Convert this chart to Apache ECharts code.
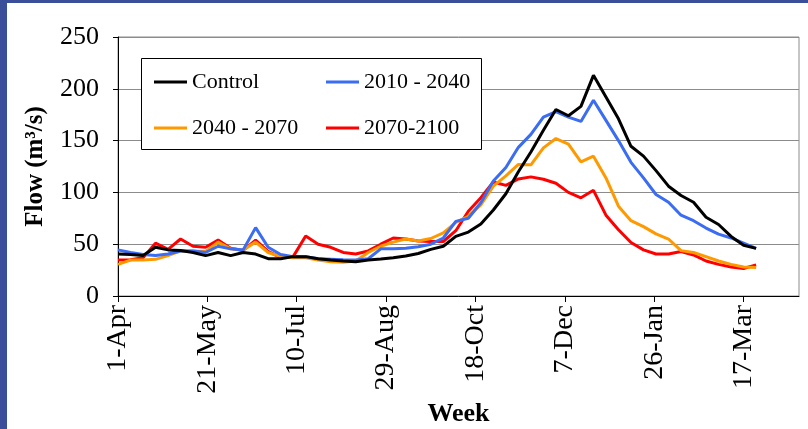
<!DOCTYPE html>
<html>
<head>
<meta charset="utf-8">
<script src="https://cdn.jsdelivr.net/npm/echarts@6/dist/echarts.min.js"></script>
<style>
  html, body { margin: 0; padding: 0; background: #ffffff; }
  #chart { width: 808px; height: 429px; }
</style>
</head>
<body>
<div id="chart"></div>
<script>
// Weekly flow, starting 1 April; one value per week (52 weeks)
const seriesNames = ['Control', '2010 - 2040', '2040 - 2070', '2070-2100'];

const control = [40.5, 40, 39, 47, 44.5, 44, 42, 39, 42, 39, 42, 40.5, 36, 36, 38, 38, 36, 34.7, 33.8, 33,
  34.7, 35.7, 37, 38.6, 41, 45, 48, 57.5, 61.7, 69.5, 83, 98.7, 120, 139, 160, 180, 174, 183, 213, 192,
  171, 144.5, 135, 121, 106, 97, 90.5, 76, 69, 57.5, 49, 46];

const p2010 = [44.5, 42, 40, 39, 40.5, 43.5, 43.5, 42, 48, 45.5, 44.5, 66, 47, 40, 38, 38, 36, 35.5, 35, 34.7,
  36, 45.5, 45.5, 46, 47.5, 50, 56, 72, 75, 90, 111, 124, 143.5, 156, 172.7, 178, 172.7, 168.5, 189, 169.5,
  150, 129, 114, 98, 90.5, 78, 72.7, 65.6, 59.7, 56, 51, 46];

const p2040 = [30.5, 34.7, 34.7, 35.4, 39, 43.5, 43.5, 43, 52, 45.5, 44.5, 52, 42, 38, 37, 37, 34.7, 33, 32.5, 33.8,
  42, 48, 52, 55, 53, 55.5, 61, 71, 77, 88, 106, 116, 127, 126.6, 143, 152, 146.7, 129.5, 135, 114,
  86.7, 72.7, 67, 60, 55, 43.8, 42, 38, 33.8, 30.5, 28, 27.6];

const p2070 = [34.7, 35, 37, 51, 45, 55, 48, 47, 54, 46, 44, 54, 43, 37, 38, 58, 50, 47, 42, 40.5,
  43.5, 50, 56, 55, 53, 52.6, 52.6, 63, 81.8, 94.8, 110, 106.8, 113, 115, 112.7, 108.8, 100, 94.8, 102, 78,
  64, 51.6, 44.5, 40.5, 40.5, 42.9, 39.6, 33.8, 30.5, 28, 26.6, 30];

// Date labels on the week axis, every 50 days from 1 April
const tickLabels = ['1-Apr', '21-May', '10-Jul', '29-Aug', '18-Oct', '7-Dec', '26-Jan', '17-Mar'];

const colors = ['#000000', '#3a6cf4', '#ff9900', '#ff0000'];
const FONT = '"Liberation Serif", "Times New Roman", serif';

// day offset of each weekly value
const toPoints = arr => arr.map((v, k) => [k * 7, v]);

const chart = echarts.init(document.getElementById('chart'), null, { renderer: 'canvas' });

const makeSeries = (name, arr, i) => ({
  name: name,
  type: 'line',
  data: toPoints(arr),
  showSymbol: false,
  symbol: 'none',
  lineStyle: { width: 3, color: colors[i] },
  itemStyle: { color: colors[i] },
  z: 10 - i
});

const legendBase = {
  orient: 'vertical', top: 71, padding: 0,
  itemWidth: 33, itemHeight: 3, itemGap: 24, icon: 'rect',
  textStyle: { fontFamily: FONT, fontSize: 22, color: '#000' }
};

chart.setOption({
  animation: false,
  backgroundColor: '#ffffff',
  grid: {
    left: 118, top: 37, right: 9, bottom: 133,
    containLabel: false, outerBoundsMode: 'none',
    show: true, borderColor: '#8c8c8c', borderWidth: 1, backgroundColor: 'transparent'
  },
  xAxis: {
    type: 'value',
    min: 0, max: 381, interval: 50,
    name: 'Week',
    nameLocation: 'middle',
    nameGap: 101,
    nameTextStyle: { fontFamily: FONT, fontSize: 26, fontWeight: 'bold', color: '#000' },
    axisLine: { show: true, lineStyle: { color: '#000', width: 1 } },
    axisTick: { show: true, length: 6, lineStyle: { color: '#000' } },
    splitLine: { show: false },
    axisLabel: {
      rotate: 90,
      margin: 9,
      fontFamily: FONT, fontSize: 28, color: '#000',
      showMaxLabel: false,
      formatter: v => tickLabels[Math.round(v / 50)] || ''
    }
  },
  yAxis: {
    type: 'value',
    min: 0, max: 250, interval: 50,
    name: 'Flow (m³/s)',
    nameLocation: 'middle',
    nameGap: 70,
    nameTextStyle: { fontFamily: FONT, fontSize: 25, fontWeight: 'bold', color: '#000' },
    axisLine: { show: true, lineStyle: { color: '#000', width: 1 } },
    axisTick: { show: true, length: 5, lineStyle: { color: '#000' } },
    splitLine: { show: true, lineStyle: { color: '#8c8c8c', width: 1 } },
    axisLabel: { margin: 19, fontFamily: FONT, fontSize: 26, color: '#000' }
  },
  legend: [
    Object.assign({}, legendBase, { data: [seriesNames[0], seriesNames[2]], left: 154 }),
    Object.assign({}, legendBase, { data: [seriesNames[1], seriesNames[3]], left: 326 })
  ],
  graphic: [
    // legend frame
    { type: 'rect', shape: { x: 141.5, y: 58.5, width: 340, height: 91 },
      style: { fill: '#ffffff', stroke: '#000', lineWidth: 1 }, z: 1, silent: true },
    // page frame bars
    { type: 'rect', shape: { x: 0, y: 0, width: 808, height: 3 }, style: { fill: '#3a4e9a' }, z: 100, silent: true },
    { type: 'rect', shape: { x: 0, y: 0, width: 7, height: 429 }, style: { fill: '#3a4e9a' }, z: 100, silent: true }
  ],
  series: [
    makeSeries(seriesNames[0], control, 0),
    makeSeries(seriesNames[1], p2010, 1),
    makeSeries(seriesNames[2], p2040, 2),
    makeSeries(seriesNames[3], p2070, 3)
  ]
});
</script>
</body>
</html>
